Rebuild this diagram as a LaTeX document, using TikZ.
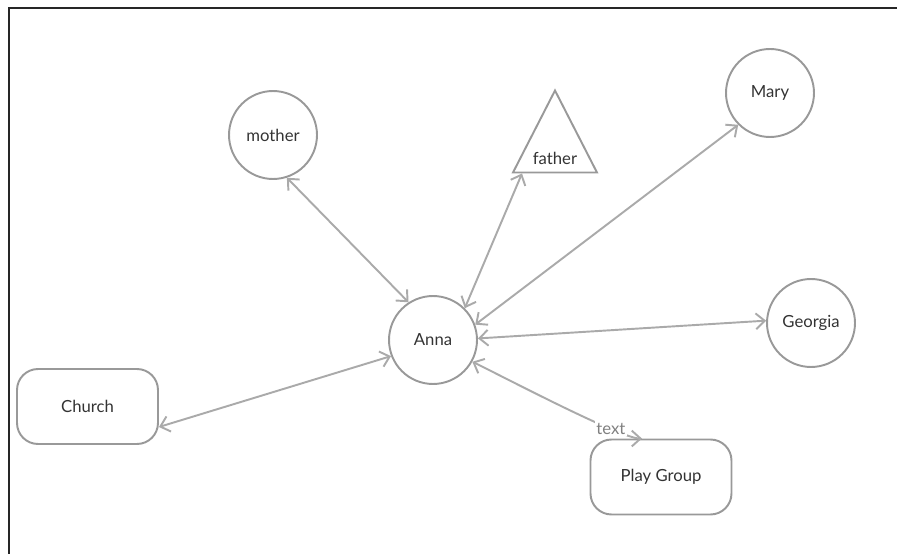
\documentclass[tikz,border=0pt]{standalone}
\usepackage{fontspec}
\setmainfont{Lato}
\usetikzlibrary{shapes.geometric,arrows.meta}
\definecolor{edgegrey}{HTML}{AAAAAA}
\definecolor{shapegrey}{HTML}{999999}
\definecolor{textgrey}{HTML}{333333}
\begin{document}
\begin{tikzpicture}[x=0.02cm,y=-0.02cm,
  every node/.style={font=\fontsize{9.5}{11}\selectfont,text=textgrey},
  person/.style={circle,draw=shapegrey,line width=1.1pt,minimum size=1.76cm,inner sep=0pt},
  place/.style={rectangle,rounded corners=0.42cm,draw=shapegrey,line width=1.1pt,minimum width=2.82cm,minimum height=1.5cm},
  link/.style={draw=edgegrey,line width=1.1pt,{Straight Barb[length=5pt,width=9pt]}-{Straight Barb[length=5pt,width=9pt]}}]
\useasboundingbox (0,0) rectangle (897,554);
%frame, cut at the page edge
\draw[line width=1.2pt,black!85](9,554)--(9,8)--(897,8);
%people
\node[person] (anna) at (433,340) {Anna};
\node[person] (mother) at (273,135) {mother};
\node[person] (mary) at (770,93) {Mary};
\node[person] (georgia) at (811,323) {Georgia};
\node[isosceles triangle,isosceles triangle stretches,shape border rotate=90,draw=shapegrey,line width=1.1pt,
  minimum width=1.68cm,minimum height=1.64cm,inner sep=0pt] (father) at (555,158) {father};
%places
\node[place] (church) at (87.5,406.5) {Church};
\node[place] (playgroup) at (661,477) {Play Group};
%links to Anna
\draw[link] (mother.288) -- (anna.123);
\draw[link] ([xshift=-0.66cm]father.lower side) -- (anna.45);
\draw[link] (mary.225) -- (anna.20);
\draw[link] (georgia.177) -- (anna.2);
\draw[link] ([yshift=-0.41cm]church.east) -- (anna.201);
\draw[link] (anna.331) to[out=-25,in=180,looseness=0.3] node[pos=0.76,fill=white,inner sep=1pt,text=gray]{text} ([xshift=-0.38cm]playgroup.north);
\end{tikzpicture}
\end{document}
